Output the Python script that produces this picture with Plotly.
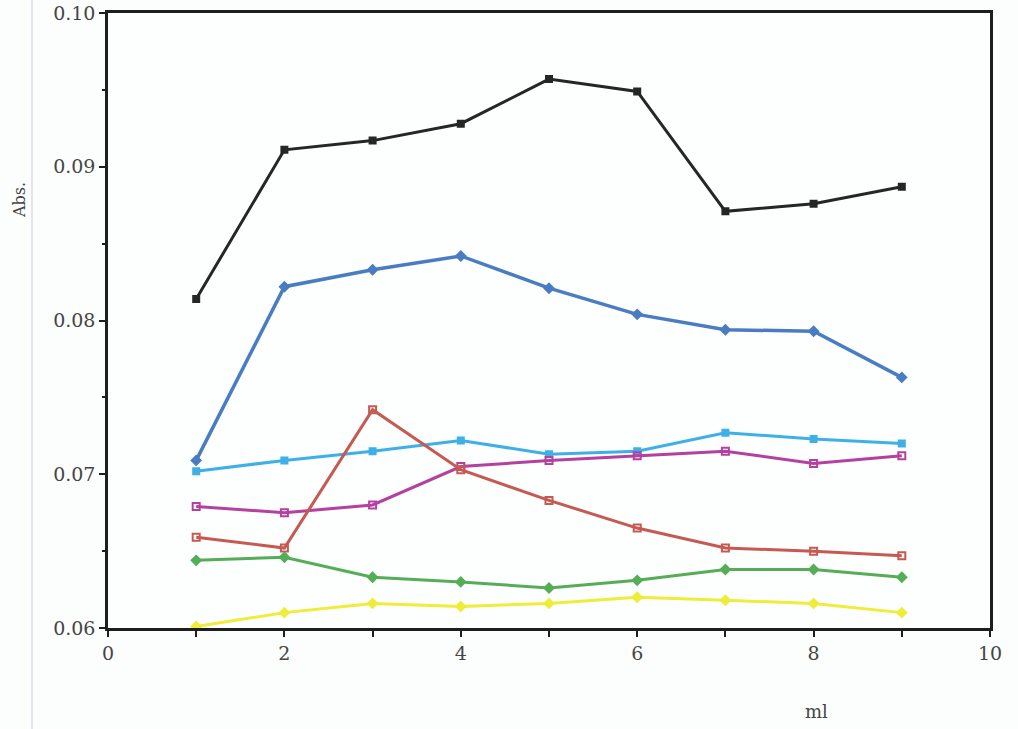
import plotly.graph_objects as go

# Volume added (ml)
ml = [1, 2, 3, 4, 5, 6, 7, 8, 9]

# Absorbance readings per series
abs_black = [0.0814, 0.0911, 0.0917, 0.0928, 0.0957, 0.0949, 0.0871, 0.0876, 0.0887]
abs_blue = [0.0709, 0.0822, 0.0833, 0.0842, 0.0821, 0.0804, 0.0794, 0.0793, 0.0763]
abs_sky = [0.0702, 0.0709, 0.0715, 0.0722, 0.0713, 0.0715, 0.0727, 0.0723, 0.0720]
abs_magenta = [0.0679, 0.0675, 0.0680, 0.0705, 0.0709, 0.0712, 0.0715, 0.0707, 0.0712]
abs_red = [0.0659, 0.0652, 0.0742, 0.0703, 0.0683, 0.0665, 0.0652, 0.0650, 0.0647]
abs_green = [0.0644, 0.0646, 0.0633, 0.0630, 0.0626, 0.0631, 0.0638, 0.0638, 0.0633]
abs_yellow = [0.0601, 0.0610, 0.0616, 0.0614, 0.0616, 0.0620, 0.0618, 0.0616, 0.0610]

x_ticks = [0, 1, 2, 3, 4, 5, 6, 7, 8, 9, 10]
x_tick_text = ["0", "", "2", "", "4", "", "6", "", "8", "", "10"]
y_ticks = [0.06, 0.07, 0.08, 0.09, 0.10]
y_tick_text = ["0.06", "0.07", "0.08", "0.09", "0.10"]

series = [
    (abs_black, "#262626", 3, "square", 6),
    (abs_blue, "#4a7cc2", 3.5, "diamond", 7),
    (abs_sky, "#3fb0e6", 3, "square", 6),
    (abs_magenta, "#b4409f", 3, "square-open", 7),
    (abs_red, "#c65a52", 3, "square-open", 7),
    (abs_green, "#56ad57", 3, "diamond", 7),
    (abs_yellow, "#eded3a", 3, "diamond", 7),
]

fig = go.Figure()
for values, color, width, symbol, size in series:
    fig.add_trace(go.Scatter(
        x=ml, y=values, mode="lines+markers",
        line=dict(color=color, width=width),
        marker=dict(symbol=symbol, size=size, color=color,
                    line=dict(color=color, width=2)),
        showlegend=False, cliponaxis=False,
    ))

serif = "DejaVu Serif, Liberation Serif, serif"
font = dict(family=serif, size=19, color="#454545")

L, R, T, B = 108, 28, 13, 101
W, H = 1018, 729
plot_w = W - L - R
plot_h = H - T - B

fig.update_layout(
    width=W, height=H,
    margin=dict(l=L, r=R, t=T, b=B, autoexpand=False),
    paper_bgcolor="#fcfdfd", plot_bgcolor="#fdfefe",
    font=font,
    xaxis=dict(
        range=[0, 10], tickvals=x_ticks, ticktext=x_tick_text,
        showgrid=False, zeroline=False, automargin=False,
        showline=True, linecolor="#1e1e1e", linewidth=2.5, mirror=True,
        ticks="outside", ticklen=6, tickwidth=2, tickcolor="#1e1e1e",
        tickfont=font,
    ),
    yaxis=dict(
        range=[0.06, 0.10], tickvals=y_ticks, ticktext=y_tick_text,
        showgrid=False, zeroline=False, automargin=False,
        showline=True, linecolor="#1e1e1e", linewidth=2.5, mirror=True,
        ticks="outside", ticklen=6, tickwidth=2, tickcolor="#1e1e1e",
        minor=dict(dtick=0.005, ticks="outside", ticklen=3, tickwidth=1.5,
                   tickcolor="#1e1e1e"),
        tickfont=font, ticklabelstandoff=0,
    ),
)


def px_to_paper(px, py):
    return (px - L) / plot_w, 1 - (py - T) / plot_h


ax, ay = px_to_paper(19, 200)
fig.add_annotation(text="Abs.", x=ax, y=ay, xref="paper", yref="paper",
                   xanchor="center", yanchor="middle",
                   showarrow=False, textangle=-90,
                   font=dict(family=serif, size=16, color="#454545"))
mx, my = px_to_paper(816, 711)
fig.add_annotation(text="ml", x=mx, y=my, xref="paper", yref="paper",
                   xanchor="center", yanchor="middle", showarrow=False,
                   font=dict(family=serif, size=18, color="#454545"))

# faint page edge on the left
ex, _ = px_to_paper(32, 0)
fig.add_shape(type="line", xref="paper", yref="paper",
              x0=ex, x1=ex, y0=1 + T / plot_h, y1=-B / plot_h,
              line=dict(color="#e6e3ee", width=2))

fig.write_html("out.html")
